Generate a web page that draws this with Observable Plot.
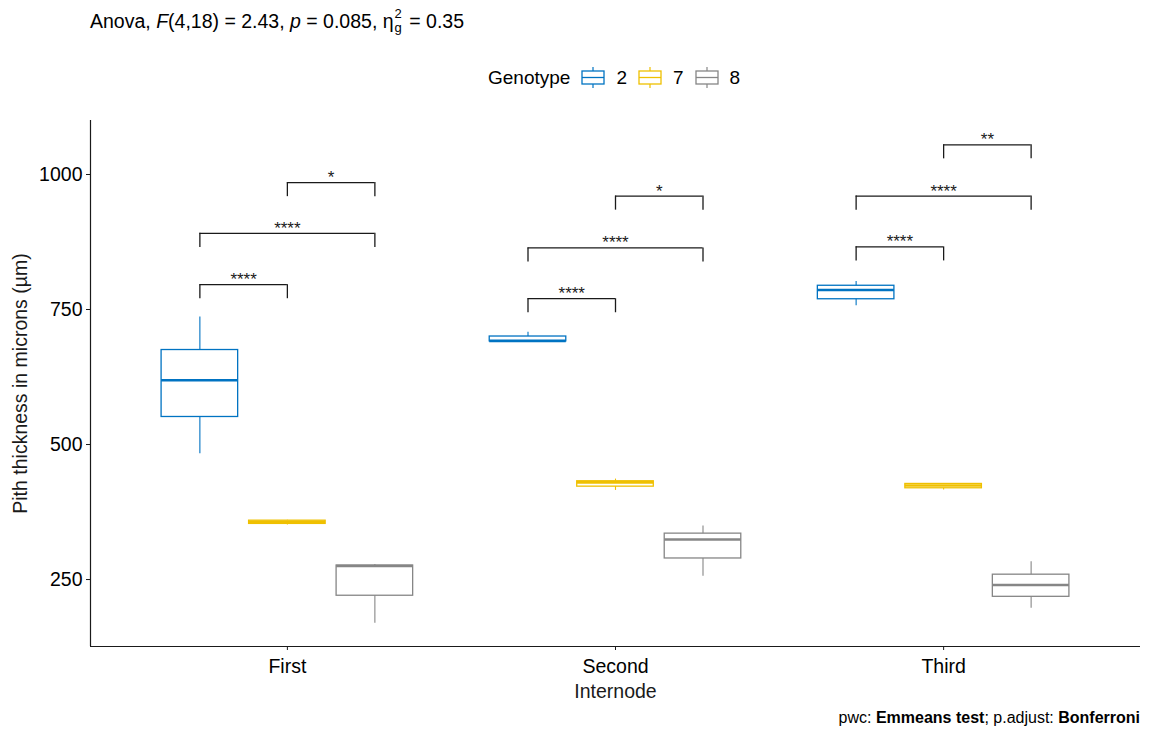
<!DOCTYPE html>
<html><head><meta charset="utf-8">
<script src="https://cdn.jsdelivr.net/npm/d3@7"></script>
<script src="https://cdn.jsdelivr.net/npm/@observablehq/plot@0.6"></script>
<style>
body{margin:0;background:#fff;font-family:"Liberation Sans",Arial,sans-serif;color:#000;}
#wrap{position:relative;width:1153px;height:732px;overflow:hidden;background:#fff;}
#title{position:absolute;left:90px;top:7px;font-size:19.5px;line-height:19.5px;white-space:nowrap;}
#title .ss{display:inline-flex;flex-direction:column;font-size:13px;line-height:14px;vertical-align:10px;margin:0 2px 0 1px;}
#legend{position:absolute;left:488px;top:64px;height:28px;display:flex;align-items:center;font-size:19px;white-space:nowrap;}
#legend .lab{margin-left:10px;margin-right:10px;}
#legend .ttl{margin-right:10px;}
#chart{position:absolute;left:0;top:100px;}
#caption{position:absolute;right:13px;top:710px;font-size:16px;line-height:16px;white-space:nowrap;}
</style></head><body>
<div id="wrap">
  <div id="title">Anova, <i>F</i>(4,18) = 2.43, <i>p</i> = 0.085, η<span class="ss"><span>2</span><span>g</span></span> = 0.35</div>
  <div id="legend"></div>
  <div id="chart"></div>
  <div id="caption">pwc: <b>Emmeans test</b>; p.adjust: <b>Bonferroni</b></div>
</div>
<script>
// Categories
const internodes = ["First", "Second", "Third"];
const genotypes = ["2", "7", "8"];
const genotypeColors = ["#0073C2", "#EFC000", "#868686"];
const yTicks = [250, 500, 750, 1000];

// Box summaries
const boxInternode = ["First","First","First","Second","Second","Second","Third","Third","Third"];
const boxGenotype  = ["2","7","8","2","7","8","2","7","8"];
const whiskerLow   = [483, 351, 169, 690, 415, 256, 757, 416, 197];
const boxQ1        = [551, 353, 220, 691, 422, 289, 769, 419, 218];
const boxMedian    = [619, 357, 275, 692, 430, 324, 786, 424, 240];
const boxQ3        = [675, 359, 276, 700, 432, 335, 794, 427, 259];
const whiskerHigh  = [736, 360, 278, 708, 436, 349, 802, 428, 283];

// Pairwise comparison brackets
const bracketInternode = ["First","First","First","Second","Second","Second","Third","Third","Third"];
const bracketGroup1 = ["2","2","7","2","2","7","2","2","7"];
const bracketGroup2 = ["7","8","8","7","8","8","7","8","8"];
const bracketY = [796, 891, 985, 770, 864, 960, 866, 960, 1055];
const bracketLabel = ["****","****","*","****","****","*","****","****","**"];

const yDomain = [126, 1100];
const xDomain = [0.4, 3.6];
const tipLength = 26;
const dodgeWidth = 0.8;
const boxHalf = 0.7 / genotypes.length / 2;

const pos = (inode, g) => internodes.indexOf(inode) + 1 +
  (genotypes.indexOf(g) - (genotypes.length - 1) / 2) * dodgeWidth / genotypes.length;

const boxes = boxInternode.map((inode, i) => ({
  internode: inode, genotype: boxGenotype[i],
  low: whiskerLow[i], q1: boxQ1[i], median: boxMedian[i], q3: boxQ3[i], high: whiskerHigh[i]
}));
const brackets = bracketInternode.map((inode, i) => ({
  internode: inode, g1: bracketGroup1[i], g2: bracketGroup2[i], y: bracketY[i], label: bracketLabel[i]
}));
const tips = brackets.flatMap(b => [{internode: b.internode, g: b.g1, y: b.y}, {internode: b.internode, g: b.g2, y: b.y}]);

const ink = "#1a1a1a";
const chart = Plot.plot({
  width: 1153, height: 610,
  marginTop: 20, marginBottom: 64, marginLeft: 90, marginRight: 13,
  style: {fontFamily: '"Liberation Sans", Arial, sans-serif', fontSize: "19.5px", color: "#000", background: "#fff"},
  x: {domain: xDomain, axis: null},
  y: {domain: yDomain, axis: null},
  color: {domain: genotypes, range: genotypeColors},
  marks: [
    Plot.axisX({ticks: [1, 2, 3], tickFormat: i => internodes[i - 1], tickSize: 4, tickPadding: 9, label: null, stroke: ink}),
    Plot.axisY({ticks: yTicks, tickFormat: d => String(d), tickSize: 4, tickPadding: 4, label: null, stroke: ink}),
    Plot.ruleY([yDomain[0]], {stroke: ink, strokeWidth: 1.2}),
    Plot.ruleX([xDomain[0]], {stroke: ink, strokeWidth: 1.2}),
    Plot.ruleX(boxes, {x: d => pos(d.internode, d.genotype), y1: "low", y2: "high", stroke: "genotype", strokeWidth: 1.1}),
    Plot.rect(boxes, {x1: d => pos(d.internode, d.genotype) - boxHalf, x2: d => pos(d.internode, d.genotype) + boxHalf,
      y1: "q1", y2: "q3", fill: "white", stroke: "genotype", strokeWidth: 1.3}),
    Plot.ruleY(boxes, {y: "median", x1: d => pos(d.internode, d.genotype) - boxHalf, x2: d => pos(d.internode, d.genotype) + boxHalf,
      stroke: "genotype", strokeWidth: 2.6}),
    Plot.ruleY(brackets, {y: "y", x1: d => pos(d.internode, d.g1), x2: d => pos(d.internode, d.g2), stroke: ink, strokeWidth: 1.3}),
    Plot.ruleX(tips, {x: d => pos(d.internode, d.g), y1: d => d.y - tipLength, y2: "y", stroke: ink, strokeWidth: 1.3}),
    Plot.text(brackets, {x: d => (pos(d.internode, d.g1) + pos(d.internode, d.g2)) / 2, y: "y", text: "label",
      dy: -5, fontSize: 17, fill: ink}),
    Plot.text(["Internode"], {frameAnchor: "bottom", lineAnchor: "middle", textAnchor: "middle", dy: 45, fill: ink}),
    Plot.text(["Pith thickness in microns (µm)"], {frameAnchor: "left", lineAnchor: "middle", textAnchor: "middle", dx: -70, rotate: -90, fill: ink})
  ]
});
document.getElementById("chart").appendChild(chart);

// Legend
const legend = document.getElementById("legend");
const ttl = document.createElement("span");
ttl.className = "ttl"; ttl.textContent = "Genotype";
legend.appendChild(ttl);
genotypes.forEach((g, i) => {
  const c = genotypeColors[i];
  const ns = "http://www.w3.org/2000/svg";
  const svg = document.createElementNS(ns, "svg");
  svg.setAttribute("width", 26); svg.setAttribute("height", 24);
  svg.innerHTML = `<line x1="13" x2="13" y1="1" y2="5" stroke="${c}" stroke-width="1.2"/>
    <line x1="13" x2="13" y1="18" y2="22" stroke="${c}" stroke-width="1.2"/>
    <rect x="2" y="5" width="22" height="13" fill="white" stroke="${c}" stroke-width="1.3"/>
    <line x1="2" x2="24" y1="11.5" y2="11.5" stroke="${c}" stroke-width="1.3"/>`;
  legend.appendChild(svg);
  const lab = document.createElement("span");
  lab.className = "lab"; lab.textContent = g;
  legend.appendChild(lab);
});
</script>
</body></html>
